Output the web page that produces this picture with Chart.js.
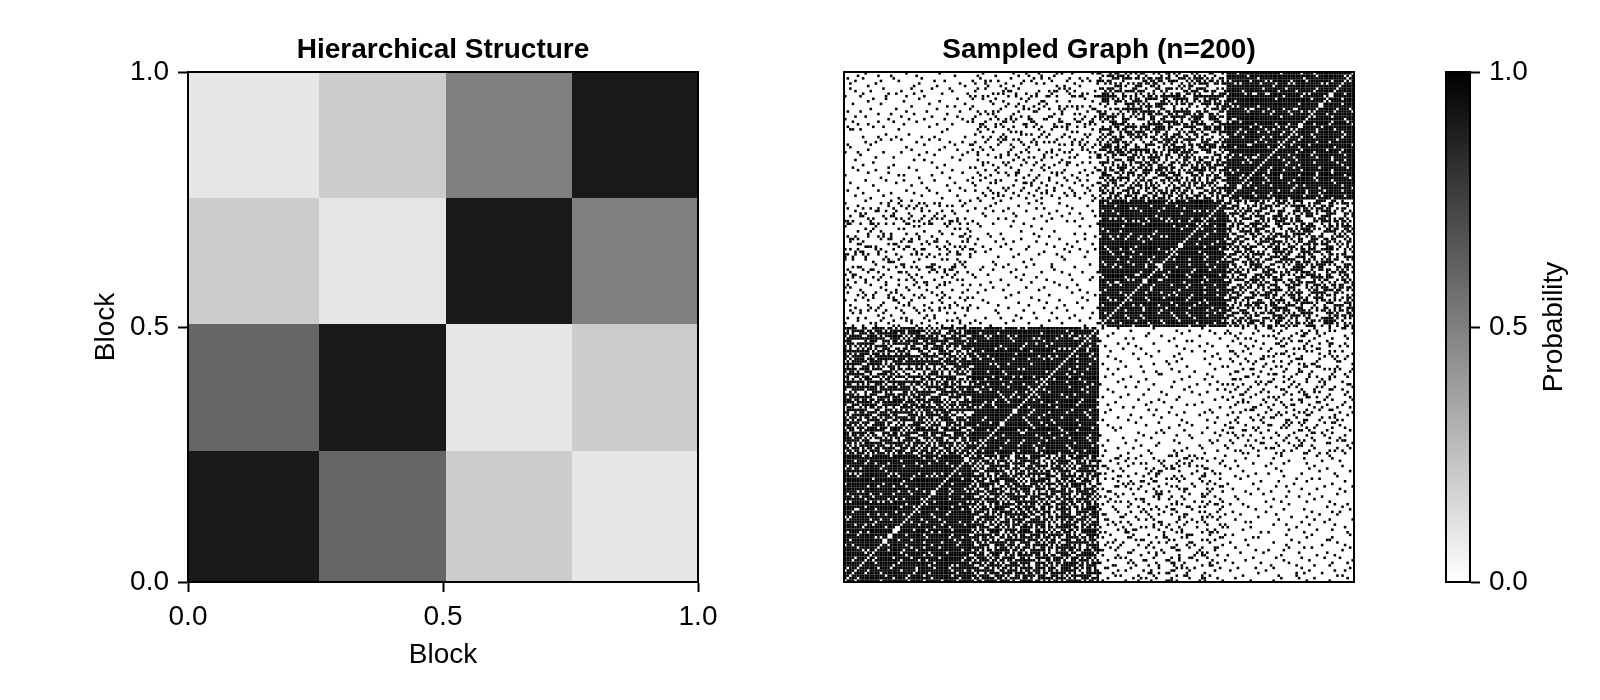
<!DOCTYPE html>
<html>
<head>
<meta charset="utf-8">
<script src="https://cdn.jsdelivr.net/npm/chart.js@4"></script>
<style>
  html, body { margin: 0; padding: 0; background: #fff; width: 1600px; height: 700px; overflow: hidden; }
  .panel { position: absolute; top: 0; height: 700px; }
</style>
</head>
<body>
<div class="panel" style="left:0;width:760px"><canvas id="chart_blocks"></canvas></div>
<div class="panel" style="left:780px;width:640px"><canvas id="chart_graph"></canvas></div>
<div class="panel" style="left:1400px;width:200px"><canvas id="chart_bar"></canvas></div>
<script>
const tick_values = [0, 0.5, 1];
const tick_labels = ['0.0', '0.5', '1.0'];

// left panel: block edges and probabilities, rows listed from the bottom up
const block_edges = [0, 0.25686, 0.50588, 0.75294, 1];
const block_probs = [
  [0.9, 0.6, 0.2, 0.1],
  [0.6, 0.9, 0.1, 0.2],
  [0.2, 0.1, 0.9, 0.5],
  [0.1, 0.2, 0.5, 0.9]
];
const colorbar_x = [0, 1];
const colorbar_y = [1, 1];

// right panel: adjacency bits typed as hex, 50 rows of 50 cells for each pair of blocks.
// Densities follow the picture, single cells are eyeballed and not an exact copy.
const edges_00 = `
f7fdffbefdf7f fbffef7fdffbf dfff7fbeffdff ff7dffefbff7f efbffdf7ffdef
fffbdff7efbff 7dffefffbfd7f fdf7fbffefffb bfeffdfb7ffdf fff7efdffbfef
dfbfff7edfffb f7effdffbf7ff ffdfbef7fffdf bff7ffdefbfff efffbf7fdff7f
fbdf7ffefdfbf ff7ffbdfffeff 7fefdfff7fbdf fdffbf7effdfb ffbef7ffdbfff
dffffbef7fdff f7fbdfffefbff effd7ffbfdfef ffbfffdf7efbf bf7efffdfbfff
fdffbf7fefffd 7ffefbffdf7ff ffdf7efbffbfe efbffdfff7fdf dff7fbefffdfb
fbfefdff7ffbf ff7fbfdfefff7 bffdff7effbff ffefb7fdfffdf fdf7ffbfefbff
7fbffefdffdf7 effdfbf7ffbef fff7befdffffb dfbffff7efdff fbefdf7ffbfff
ff7dffbfeffdf bffefff7dfbff fdfbf7ffeffbf ff7ffdefbf7ff efbdfff7ffdff
f7ffbfedffbff dfffb7feffdfb ffbfdff7efff7 fefffdbf7ffdf bffdf7ffefbff`;
const edges_11 = `
ffbf7fefdfbff f7ffdfbffef7f dfefffb7fdfff fbffdf7ffbfef 7ffbefdfff7fb
effdf7fbfffdf ffbfffef7dfbf fdf7ffbfeffdf bfffe7fdfbfff ff7fdbffefbff
efbfff7fdffef dff7fefbffdff fbfffdef7fffb f7dffbfeffbff fffbf7dfeffdf
bfeffdf7fffbf 7fffbefdfbf7f fdfbff7ffefdf ffef7dffbfffb efbf7ffdffbff
dff7ffefbfdff fbfdff7fffefb ff7befdffbfff 7fdfffbfef7ff fbffe7fdfffbf
ffdfbff7ffefd bffef7fffdfbf efdfff7bfffef f7ffbdfffbf7f fffefbff7fdff
dfbff7effdfff fbff7ffdfbeff 7ffdefbfff7fd ffbfff7efdfbf efffdfb7ffbff
fdf7fbeffffdf bffffd7fefbff ff7fefbfdfff7 dfbfffef7fbdf ffef7fbffdfef
f7fdffbfeffbf fbefff7fdffbf ffdfb7fffefdf 7ffbffdf7fefb efdffbf7fffdf
bff7fdeffbfff fffbf7efdfffb dfefbff7ffdff f7ffdfbfeff7f ffbefff7dfbff`;
const edges_22 = `
dffbf7ffefdff ff7fefbffdfbf fbfdff7effff7 7fefbffdfbfff ffdf7ffbefdfb
bffffef7dffbf efdfbf7fffdef f7ffbfdfeff7f fffb7efdfbfff dfbffff7fedff
fbf7efffdfbff ff7fdfbfefffb 7fbfffedf7fdf efffdf7bffbff fdbff7fefffdf
bffef7ffdfbff ffdffbf7effbf f7efdfffbf7ff dffbfe7fffdfb ffbf7fdfefbff
efff7fbfdffef 7fdbffeff7fff fbffdf7ffbefd ffefbf7dfffbf bfffd7ffefdff
fdf7febffffdf ff7ffdfbefbf7 dfbeff7fffdfb f7ffefbdffbff ffdfbff7feffb
efbff7fdfffef fffbdfef7fbff 7ffefbfffdf7f bf7ffdefbffdf fdffff7bfeffb
ffefdbf7ffbff dfff7fbfefdff fbf7ffdfeffbf 7ffbfffdef7fd effdfbff7ffbf
ffbf7efdffdff f7fdfffbef7ff dfefbff7fdfbf fffb7ffefdfff bfdff7fbffefd
fbffefdf7fffb ff7fbfdfefbff 7fdffefbfff7f efbfffd7ffbdf fdff7fbffeffd`;
const edges_33 = `
fbffdf7fefbff ffef7ffdfbfdf 7fdfbffef7fff dffff7befdfbf fbefffdff7ffb
ff7fbfedfffbf efbdff7fffdfe bfff7fdfefbff f7fefbffdfff7 fffdfbf7effdf
dfbf7fffefbfd ffef7dfbffbff 7fffbfdff7fef fbdffef7fffbf effbff7fdfeff
bf7ffdefffbdf fffbf7dfefbff dfefff7fbffdf f7ffbfefdff7f ff7dfffbfefbf
efbffdf7ffdff fdffefbf7fffb 7fbfffdfef7ff ffdfbff7ffefd bfef7ffbdffbf
fffd7fefbffdf f7bfffdfeffbf dffbf7ffefdff ffef7dfbfbfff 7ffbefffdf7fb
fbf7ffdfffbef efdffbf7fffdf fffb7fefdfbff bffdf7ffbefff dfffbef7ffdfb
ff7fdfbfffef7 f7efbffdfbfff fdfffbf7effbf 7fbdfffeff7fd efbf7ffdfffbf
ffdffbef7fbff bff7fdfffefdf fbefdf7fffbff dfff7bffefdff f7ffefdfbf7ff
fffbdf7fefbff 7fefffbdffdf7 ffbf7ffefdfbf efdfbff7ffeff fdf7effbffdfb`;
const edges_01 = `
b7de9f6ad7eb5 6fb5ed3f7a9de de7a6fb9d5fe6 a5ef7b6dfa97d 7f9bd6eb5fa6e
e6ad5f7b9ed6b 9bf7ea6d5fb7a f5a9de7b6fd5e 5edb7fa6e9bd7 bd6f9a7ef5d6a
7ae5bf6d9e7fb d9f6b5ea7d9f6 6b7ed9fa5b6ed fa5d6e9b7fa5e 9e7ba6fd5ea7f
b5fd9e6ba7fd6 6ea7fbd59e6ba ed9b5f6ea7db5 7f6ad9ebf6a7d a9e5bf7d6e9fb
5bf7de6a9b5fe de6a9f5b7ed6a f9b6ed7a5f9be 6d5eb7fa96d5f b7a6f9ed5b7a6
9fd5ae6b7f9de e6b7fd9a5e6bf 7adf5b6e9a7df 5ef9b6da7e5f9 ad7e6f9b5ad7e
d96fb5ae7d96f 6bea7fd59b6ea f7d5e9ba6f7d5 9a6bfde75a96b e5f7a6bd9e5f7
7bd96ea5fb7d9 a6f5de7b9a6f5 de9b7f6a5de9b 5fa6e9d7b5fa6 b9e7d5fa6b9e7
6d7fa9be5d6d7 fb5ed6a79fb5e 9a6d7bfe5a96d e7f95ad6be7f9 5bd6e7a9f5bd6
a9fe5b7d6a9fe d7a6f9e5bd7a6 6ebd5fa97e6bd f95a7de6b9f5a b7de69fa5b7de`;
const edges_23 = `
5a92d6b1e4937 b4e6195ac3d28 2d7a5c916be43 96c3ae5187d2b e1583d7a90b6c
3b96e2a7c1d18 c7215b8e96ad4 68ad3f1c5329e a5d971e4223cb 14be6a97d1c38
d28c5e3b16a97 79e1a46d3c25b 4c37b2e895a16 ba69d15c7e342 e5127ca8b3d96
36ca98e1572db 8d4e71b93a6c5 c1b5926de4a37 5e7a3cd82b169 a936b41e7dc52
271dc6a5e98b3 dc83b597a16e4 6ab2e17c4d953 945d8a3e6c1b7 b17c629d5ea38
e36a1d5b97c42 38d9c7e2a5b16 c5a47b1e6293d 72be958ac4d61 1d6a3ec7b9825
a9c13b56e7d28 5b72d8e4a1c96 e48c6a93b7152 3617bd2ce5a98 d9a5e14c7362b
8e32b7a96c5d1 b16c5d3e842a7 47d9a16bc3e58 ca5e24d7a9b36 69b38c15e2d7a
2e7d1ba6c4953 d41a9e5c37b68 93c6b7582ead1 a65e3d19c7824 7b298ca5d1e36
15dc6e3b97a48 eac7421b5d963 38b5d97ea6c12 c9162ea4b8d75 5d7a9b3c1e642`;
const edges_02 = `
4021083a01408 1004a20810c20 0281040260901 8400193020402 0120480c10042
30080102a4010 0602110480982 8014020c40120 1008603102084 02a0040918200
4100820104c20 0018124002a01 c204008301040 0900240c10860 2081100224008
1440092018100 0202c01400a42 40180260a0018 0804104038104 a0300042809a0
0126010880240 8040a42102008 1208049040216 0490018222400 3001240108820
00c2080140a90 6020110860104 0108a04201422 8200490c08010 0411022031408
4008100a80260 1290400204908 0802c11040012 a100050880c40 0244038010a00
1800229040108 4009040160282 0320810a04018 8054102008240 0108c60100900
2400082a41010 0190420480c02 a002130008450 0440098102081 1080242c00602
6010004912804 0104a08250010 8820014108208 0312040062841 4080801a14004`;
const edges_13 = `
0280140309020 1408024080a40 8021601020108 0140082c40012 2006108401804
4090020a20160 0802411040882 1240088102021 a004102064400 0310800c81008
6028050120420 0100c28410082 4802014a02600 1024018308140 0842601004a02
8008142180210 2401090a40084 0160402108c02 4030810024109 1004226081040
0a81040418020 8202104c02404 2040a80191008 0610024300822 4104810a28010
1082060420c40 0840109014206 a209004802018 0014c2210a040 3400208104802
0188024090a10 4020b01080421 1804020c40208 0260410802a84 8002140318100
0421008a60004 2090244010180 4106001c08220 0802a08402510 1040162008804
6200810140a42 0084402a18001 8120060240890 0402190108c20 2010044c81002
0940128020410 1002a04608020 4420081312004 8008240490a01 0210c10020864`;
const edges_03 = `
0040200100802 1000040820010 0200081000140 0008001204000 4001000080220
0810200400008 0000401020801 2004008000410 0100020080004 0020100402080
8000040010200 0402000801000 0010820000041 1000008240008 0080010004020
4000200800100 0100004001802 0028000100400 2000010040008 0004800200010
0200008010400 8040001000021 0000210080200 0140000402000 1000080020804
0008004100002 0400100008100 2001000040480 0010020200008 0080400001040
4200008000210 0001040100800 0800200020002 1000010804000 0042000080100
0100408000020 2008000410080 0000110002004 8020002000401 0004080100020
0400001048000 1080020000100 0010800400202 0200040008008 4000100081000
0801000020040 0020420100001 1000008004080 0100200200400 0008040010802`;
const edges_12 = `
0010080200401 2000100480020 0104000020800 4000820001004 0020010100080
1002000400120 0040080008002 8000400210010 0001024000840 0200008040008
0480001000200 1000200108004 0002010020041 4010000080200 0100808000020
0008040201000 2000001040480 0800120000102 0044000800010 1000200024000
0200084000801 0001010200040 4080000100008 0010402001000 0400008008200
1000100040024 0022000810000 8000040002108 0101000400020 0040200080400
2008000010080 0400018000201 0000420104000 1100000800040 0020800020008
4000041000100 0080002200002 0201000080410 1000080400080 0004200100020
0800010008400 0040800040001 2002000201080 0110040000200 8000001028000
0024000400010 1000208001000 0400100080044 0008000210100 4100040000800`;

const n_block = 50;
const n_cells = n_block * 4;
const block_pairs = [
  [0, 0, edges_00], [1, 1, edges_11], [2, 2, edges_22], [3, 3, edges_33],
  [0, 1, edges_01], [2, 3, edges_23], [0, 2, edges_02], [1, 3, edges_13],
  [0, 3, edges_03], [1, 2, edges_12]
];

function grey(v) {
  let g = Math.round(255 * (1 - v));
  return 'rgb(' + g + ',' + g + ',' + g + ')';
}

// undirected graph, so each edge goes in both ways. No self loops (white diagonal)
let graph_points = [];
for (let p of block_pairs) {
  let rows = p[2].trim().split(/\s+/);
  for (let i = 0; i < n_block; i++) {
    for (let j = 0; j < n_block; j++) {
      if (p[0] == p[1] && j <= i) continue;
      let digit = parseInt(rows[i][j >> 2], 16);
      if (digit >> (3 - (j & 3)) & 1) {
        let r = p[0] * n_block + i;
        let c = p[1] * n_block + j;
        graph_points.push({x: c + 0.5, y: r + 0.5});
        graph_points.push({x: r + 0.5, y: c + 0.5});
      }
    }
  }
}

// one filled line per block cell
let block_sets = [];
for (let r = 0; r < block_probs.length; r++) {
  for (let c = 0; c < block_probs[r].length; c++) {
    block_sets.push({
      data: [{x: block_edges[c], y: block_edges[r + 1]}, {x: block_edges[c + 1], y: block_edges[r + 1]}],
      fill: {value: block_edges[r]},
      backgroundColor: grey(block_probs[r][c]),
      borderWidth: 0,
      pointRadius: 0
    });
  }
}

const tick_font = {family: '"Liberation Sans", Arial, sans-serif', size: 28};
const label_font = {family: '"Liberation Sans", Arial, sans-serif', size: 28};
const title_font = {family: '"Liberation Sans", Arial, sans-serif', size: 28, weight: 'bold'};

function fixed(size) {
  return function(scale) {
    if (scale.isHorizontal()) scale.height = size;
    else scale.width = size;
  };
}

function frame_axis(position, size, extra) {
  return Object.assign({
    type: 'linear',
    position: position,
    min: 0,
    max: 1,
    afterFit: fixed(size),
    ticks: {display: false},
    grid: {display: false, drawTicks: false},
    border: {display: true, color: '#000', width: 2, z: 1}
  }, extra);
}

function tick_axis(position, size, extra, pad = 9) {
  return frame_axis(position, size, Object.assign({
    afterBuildTicks: function(scale) { scale.ticks = tick_values.map(v => ({value: v})); },
    ticks: {
      display: true,
      color: '#000',
      font: tick_font,
      padding: pad,
      maxRotation: 0,
      callback: function(v) { return tick_labels[tick_values.indexOf(v)]; }
    },
    grid: {display: true, drawOnChartArea: false, drawTicks: true, tickLength: 10, tickWidth: 2, tickColor: '#000', z: 1}
  }, extra));
}

function panel_title(text) {
  return {display: true, text: text, color: '#000', font: title_font, padding: {top: 33, bottom: 0}};
}

const base_options = {
  responsive: true,
  maintainAspectRatio: false,
  animation: false,
  events: [],
  layout: {padding: 0},
  plugins: {legend: {display: false}, tooltip: {enabled: false}}
};

new Chart(document.getElementById('chart_blocks'), {
  type: 'line',
  data: {datasets: block_sets},
  options: Object.assign({}, base_options, {
    scales: {
      x: tick_axis('bottom', 118, {title: {display: true, text: 'Block', color: '#000', font: label_font, padding: {top: 0, bottom: 28}}}, 8),
      y: tick_axis('left', 188, {title: {display: true, text: 'Block', color: '#000', font: label_font, padding: {top: 89, bottom: 0}}}),
      x_top: frame_axis('top', 72, {title: panel_title('Hierarchical Structure')}),
      y_right: frame_axis('right', 62)
    }
  })
});

// snap the cell squares to whole pixels so they stay crisp black and white
const crisp_cells = {
  id: 'crisp_cells',
  beforeDatasetsDraw(chart) {
    let ctx = chart.ctx;
    ctx.moveTo = (x, y) => CanvasRenderingContext2D.prototype.moveTo.call(ctx, Math.round(x), Math.round(y));
    ctx.lineTo = (x, y) => CanvasRenderingContext2D.prototype.lineTo.call(ctx, Math.round(x), Math.round(y));
  },
  afterDatasetsDraw(chart) {
    delete chart.ctx.moveTo;
    delete chart.ctx.lineTo;
  }
};

new Chart(document.getElementById('chart_graph'), {
  type: 'scatter',
  plugins: [crisp_cells],
  data: {datasets: [{
    data: graph_points,
    pointStyle: 'rect',
    pointRadius: 1.81,
    pointBorderWidth: 0,
    pointBackgroundColor: '#000'
  }]},
  options: Object.assign({}, base_options, {
    scales: {
      x: frame_axis('bottom', 118, {max: n_cells}),
      y: frame_axis('left', 64, {max: n_cells}),
      x_top: frame_axis('top', 72, {max: n_cells, title: panel_title('Sampled Graph (n=200)')}),
      y_right: frame_axis('right', 66, {max: n_cells})
    }
  })
});

// canvas title on a right axis always reads downward, here it reads upward
const upward_title = {
  id: 'upward_title',
  afterDraw(chart) {
    let ctx = chart.ctx;
    let area = chart.chartArea;
    ctx.save();
    ctx.translate(154, (area.top + area.bottom) / 2);
    ctx.rotate(-Math.PI / 2);
    ctx.font = '28px "Liberation Sans", Arial, sans-serif';
    ctx.fillStyle = '#000';
    ctx.textAlign = 'center';
    ctx.textBaseline = 'middle';
    ctx.fillText('Probability', 0, 0);
    ctx.restore();
  }
};

new Chart(document.getElementById('chart_bar'), {
  type: 'line',
  plugins: [upward_title],
  data: {datasets: [{
    data: colorbar_x.map((x, i) => ({x: x, y: colorbar_y[i]})),
    fill: {value: 0},
    borderWidth: 0,
    pointRadius: 0,
    backgroundColor: function(context) {
      let area = context.chart.chartArea;
      if (!area) return '#888';
      let gradient = context.chart.ctx.createLinearGradient(0, area.bottom, 0, area.top);
      gradient.addColorStop(0, '#fff');
      gradient.addColorStop(1, '#000');
      return gradient;
    }
  }]},
  options: Object.assign({}, base_options, {
    scales: {
      x: frame_axis('bottom', 118),
      y: frame_axis('left', 46),
      x_top: frame_axis('top', 72),
      y_right: tick_axis('right', 130)
    }
  })
});
</script>
</body>
</html>
